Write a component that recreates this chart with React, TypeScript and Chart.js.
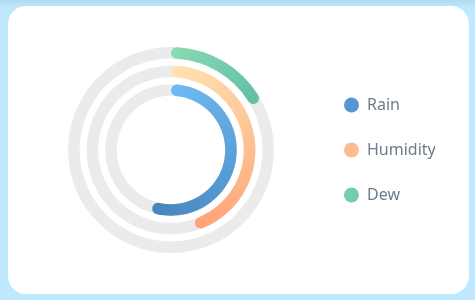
import { useEffect, useRef } from "react";
import { Chart, registerables } from "chart.js";

Chart.register(...registerables);

// Series (legend order)
const seriesNames = ["Rain", "Humidity", "Dew"];
const seriesValues = [55, 45, 17];
const maxValue = 100;
// ring order from outermost to innermost (indices into the series arrays)
const ringOrder = [2, 1, 0];

const startColors = ["#6dbbf3", "#ffe3b3", "#8bdab3"];
const endColors = ["#4884bc", "#ffa174", "#60bfa6"];
const legendColors = ["#5597d3", "#ffbb90", "#74cdac"];
const trackColor = "#ebebeb";
const textColor = "#6d7b8e";

const RING_WEIGHT = 11.6;
const GAP_WEIGHT = 7;

const trackPlugin = {
  id: "ringTracks",
  beforeDatasetsDraw(chart: any) {
    const ctx = chart.ctx;
    chart.data.datasets.forEach((ds: any, i: number) => {
      if (ds.isSpacer) return;
      const meta = chart.getDatasetMeta(i);
      const arc = meta.data[0];
      if (!arc) return;
      const { x, y, innerRadius, outerRadius } = arc.getProps(
        ["x", "y", "innerRadius", "outerRadius"],
        true
      );
      ctx.save();
      ctx.beginPath();
      ctx.arc(x, y, outerRadius, 0, Math.PI * 2);
      ctx.arc(x, y, innerRadius, 0, Math.PI * 2, true);
      ctx.closePath();
      ctx.fillStyle = trackColor;
      ctx.fill();
      ctx.restore();
    });
  },
};

function makeGradient(chart: any, s: number) {
  const area = chart.chartArea;
  if (!area) return startColors[s];
  const cx = (area.left + area.right) / 2;
  const cy = (area.top + area.bottom) / 2;
  const ctx = chart.ctx as CanvasRenderingContext2D;
  const g = ctx.createConicGradient(-Math.PI / 2, cx, cy);
  const frac = seriesValues[s] / maxValue;
  g.addColorStop(0, startColors[s]);
  g.addColorStop(frac, endColors[s]);
  g.addColorStop(1, endColors[s]);
  return g;
}

export default function App() {
  const canvasRef = useRef<HTMLCanvasElement | null>(null);

  useEffect(() => {
    if (!canvasRef.current) return;
    const datasets: any[] = [];
    ringOrder.forEach((s, k) => {
      if (k > 0) {
        datasets.push({
          isSpacer: true,
          data: [1],
          backgroundColor: "rgba(0,0,0,0)",
          hoverBackgroundColor: "rgba(0,0,0,0)",
          borderWidth: 0,
          weight: GAP_WEIGHT,
        });
      }
      datasets.push({
        label: seriesNames[s],
        data: [seriesValues[s], maxValue - seriesValues[s]],
        backgroundColor: (c: any) =>
          c.dataIndex === 1 ? "rgba(0,0,0,0)" : makeGradient(c.chart, s),
        hoverBackgroundColor: (c: any) =>
          c.dataIndex === 1 ? "rgba(0,0,0,0)" : makeGradient(c.chart, s),
        borderWidth: 0,
        borderRadius: (c: any) => (c.dataIndex === 0 ? 30 : 0),
        weight: RING_WEIGHT,
      });
    });

    const chart = new Chart(canvasRef.current, {
      type: "doughnut",
      data: { labels: ["value", "rest"], datasets },
      plugins: [trackPlugin],
      options: {
        responsive: false,
        animation: false,
        events: [],
        cutout: "52.6%",
        radius: 103,
        layout: { padding: { left: 19, right: 34, top: 0, bottom: 0 } },
        plugins: {
          tooltip: { enabled: false },
          legend: {
            position: "right",
            maxWidth: 120,
            labels: {
              usePointStyle: true,
              pointStyle: "circle",
              pointStyleWidth: 15,
              boxHeight: 10.6,
              padding: 29,
              color: textColor,
              font: { family: "'Noto Sans', sans-serif", size: 16 },
              generateLabels: () =>
                seriesNames.map((name, i) => ({
                  text: name,
                  fillStyle: legendColors[i],
                  strokeStyle: "rgba(0,0,0,0)",
                  lineWidth: 0,
                  pointStyle: "circle",
                  hidden: false,
                  fontColor: textColor,
                  datasetIndex: i,
                })),
            },
          },
        },
      } as any,
    });
    return () => chart.destroy();
  }, []);

  return (
    <div
      style={{
        position: "fixed",
        inset: 0,
        background: "linear-gradient(#b1d9ef 0px, #bfe7fd 7px)",
      }}
    >
      <div
        style={{
          position: "absolute",
          left: 8,
          top: 6,
          width: 461,
          height: 288,
          background: "#ffffff",
          borderRadius: 18,
          overflow: "hidden",
        }}
      >
        <canvas ref={canvasRef} width={461} height={288} style={{ display: "block" }} />
      </div>
    </div>
  );
}
